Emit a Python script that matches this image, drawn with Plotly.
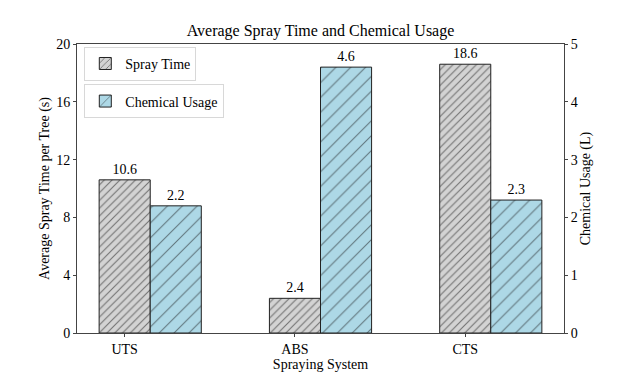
import plotly.graph_objects as go

categories = ["UTS", "ABS", "CTS"]
spray_time = [10.6, 2.4, 18.6]
chemical_usage = [2.2, 4.6, 2.3]
left_ticks = [0, 4, 8, 12, 16, 20]
right_ticks = [0, 1, 2, 3, 4, 5]

width = 0.3
pos = list(range(len(categories)))
pos_chem = [p + width for p in pos]

FONT = "Liberation Serif"

fig = go.Figure()
fig.add_trace(go.Bar(
    x=pos, y=spray_time, width=width, name="Spray Time", showlegend=True,
    marker=dict(color="#d3d3d3", line=dict(color="#222222", width=1),
                pattern=dict(shape="/", size=5.5, solidity=0.2, fgcolor="#111111")),
    text=[f"{v}" for v in spray_time], textposition="outside",
    textfont=dict(family=FONT, size=14, color="black"),
    cliponaxis=False, yaxis="y", legend="legend",
))
fig.add_trace(go.Bar(
    x=pos_chem, y=chemical_usage, width=width, name="Chemical Usage", showlegend=True,
    marker=dict(color="#add8e6", line=dict(color="#222222", width=1),
                pattern=dict(shape="/", size=10.5, solidity=0.1, fgcolor="#111111")),
    text=[f"{v}" for v in chemical_usage], textposition="outside",
    textfont=dict(family=FONT, size=14, color="black"),
    cliponaxis=False, yaxis="y2", legend="legend2",
))

axis_common = dict(showline=True, linecolor="#444444", linewidth=1, ticks="outside",
                   ticklen=3, tickcolor="#444444", showgrid=False, zeroline=False,
                   automargin=False,
                   tickfont=dict(family=FONT, size=14, color="black"))

fig.update_layout(
    width=616, height=365,
    margin=dict(l=69, r=60, t=36, b=40, autoexpand=False),
    plot_bgcolor="white", paper_bgcolor="white",
    barmode="overlay", showlegend=True,
    font=dict(family=FONT, color="black"),
    title=dict(text="Average Spray Time and Chemical Usage", x=0.5, xanchor="center",
               xref="paper", y=0.922, yanchor="bottom", yref="container",
               font=dict(family=FONT, size=16, color="black")),
    xaxis=dict(**axis_common, range=[-0.28, 2.58], tickvals=pos, ticktext=categories,
               mirror=True,
               title=dict(text="Spraying System", standoff=0,
                          font=dict(family=FONT, size=14, color="black"))),
    yaxis=dict(**axis_common, range=[0, 20], tickvals=left_ticks,
               title=dict(text="Average Spray Time per Tree (s)", standoff=3,
                          font=dict(family=FONT, size=14, color="black"))),
    yaxis2=dict(**axis_common, range=[0, 5], tickvals=right_ticks, overlaying="y",
                side="right",
                title=dict(text="Chemical Usage (L)", standoff=1,
                           font=dict(family=FONT, size=14, color="black"))),
    legend=dict(x=0.015, y=0.99, xanchor="left", yanchor="top", visible=True,
                bgcolor="rgba(255,255,255,0.8)", bordercolor="#d8d8d8", borderwidth=1,
                font=dict(family=FONT, size=14, color="black")),
    legend2=dict(x=0.015, y=0.86, xanchor="left", yanchor="top", visible=True,
                 bgcolor="rgba(255,255,255,0.8)", bordercolor="#d8d8d8", borderwidth=1,
                 font=dict(family=FONT, size=14, color="black")),
)

fig.write_html("out.html")
